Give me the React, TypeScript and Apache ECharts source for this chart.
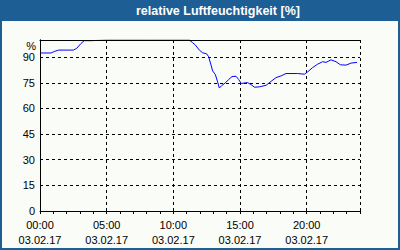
import React, { useEffect, useRef } from "react";
import * as echarts from "echarts";

const titleText = "relative Luftfeuchtigkeit [%]";
const unitLabel = "%";
const dateLabel = "03.02.17";
const hours = [
  0.0, 0.83, 1.07, 1.4, 2.5, 2.75, 3.08, 3.32, 3.83, 5.0, 8.0, 11.2, 11.45, 11.65, 11.95, 12.2,
  12.5, 12.65, 12.83, 12.95, 13.15, 13.32, 13.45, 13.65, 13.9, 14.15, 14.4, 14.7, 14.9, 15.1,
  15.35, 15.57, 15.83, 16.08, 16.45, 16.95, 17.33, 17.7, 18.08, 18.45, 19.32, 19.83, 20.08,
  20.45, 20.83, 21.2, 21.45, 21.83, 22.2, 22.53, 22.95, 23.33, 23.78,
];
const humidity = [
  92.4, 92.4, 93.3, 94.1, 94.1, 95.1, 98, 99.6, 99.6, 100, 100, 100, 98.4, 97.1, 94.1, 92.5,
  91.9, 90.2, 85.3, 81.9, 79.8, 75.5, 71.9, 73.5, 74.9, 76.9, 78.6, 78.8, 76.9, 74.5,
  74.9, 75.1, 73.9, 72.4, 72.6, 73.5, 75.8, 78, 79, 80.4, 80.4, 80, 81.4,
  83.9, 85.9, 87.3, 86.9, 88.4, 87.3, 85.5, 85.3, 86.5, 86.9,
];
const yMin = 0;
const yMax = 100;
const yStep = 15;
const xMin = 0;
const xMax = 24;
const xStep = 5;

const FONT = "'Liberation Sans', Arial, sans-serif";
const FRAME = "#1d5e94";

export default function App() {
  const ref = useRef<HTMLDivElement>(null);
  useEffect(() => {
    document.body.style.margin = "0";
    if (!ref.current) return;
    const chart = echarts.init(ref.current, undefined, { renderer: "svg" });
    const pad = (n: number) => (n < 10 ? "0" + n : "" + n);
    chart.setOption({
      animation: false,
      backgroundColor: "#fafcf8",
      textStyle: { fontFamily: FONT },
      grid: { left: 40, top: 40, width: 320, height: 171, show: false },
      graphic: [
        { type: "rect", shape: { x: 0, y: 0, width: 400, height: 21 }, style: { fill: FRAME }, z: 0 },
        {
          type: "rect",
          shape: { x: 1, y: 1, width: 398, height: 248 },
          style: { fill: "none", stroke: FRAME, lineWidth: 2 },
          z: 0,
        },
        {
          type: "text",
          x: 136,
          y: 10.5,
          style: {
            text: titleText,
            fill: "#ffffff",
            font: `bold 12.5px ${FONT}`,
            textAlign: "left",
            textVerticalAlign: "middle",
          },
          z: 1,
        },
        {
          type: "text",
          x: 36,
          y: 46,
          style: {
            text: unitLabel,
            fill: "#000000",
            font: `11px ${FONT}`,
            textAlign: "right",
            textVerticalAlign: "middle",
          },
        },
      ],
      xAxis: [
        {
          type: "value",
          min: xMin,
          max: xMax,
          interval: xStep,
          position: "bottom",
          axisLine: { show: true, lineStyle: { color: "#000", width: 1 } },
          axisTick: { show: true, length: 3, lineStyle: { color: "#000" } },
          axisLabel: {
            color: "#000",
            fontSize: 11,
            fontFamily: FONT,
            lineHeight: 15,
            margin: 6,
            showMaxLabel: false,
            formatter: (v: number) => (v >= xMax ? "" : `${pad(v)}:00\n${dateLabel}`),
          },
          splitLine: { show: true, lineStyle: { color: "#000", type: [3, 3], width: 1 } },
        },
        {
          type: "value",
          min: xMin,
          max: xMax,
          interval: 1,
          position: "bottom",
          axisLine: { show: false },
          axisTick: { show: true, length: 3, lineStyle: { color: "#000" } },
          axisLabel: { show: false },
          splitLine: { show: false },
        },
        {
          type: "value",
          min: xMin,
          max: xMax,
          position: "top",
          z: 10,
          axisLine: { show: true, lineStyle: { color: "#000", width: 1 } },
          axisTick: { show: false },
          axisLabel: { show: false },
          splitLine: { show: false },
        },
      ],
      yAxis: [
        {
          type: "value",
          min: yMin,
          max: yMax,
          interval: yStep,
          position: "left",
          axisLine: { show: true, lineStyle: { color: "#000", width: 1 } },
          axisTick: { show: false },
          axisLabel: {
            color: "#000",
            fontSize: 11,
            fontFamily: FONT,
            margin: 5,
            showMaxLabel: false,
            formatter: (v: number) => (v >= yMax ? "" : String(v)),
          },
          splitLine: { show: true, lineStyle: { color: "#000", type: [3, 3], width: 1 } },
        },
        {
          type: "value",
          min: yMin,
          max: yMax,
          position: "right",
          z: 10,
          axisLine: { show: true, lineStyle: { color: "#000", width: 1 } },
          axisTick: { show: false },
          axisLabel: { show: false },
          splitLine: { show: false },
        },
      ],
      series: [
        {
          type: "line",
          xAxisIndex: 0,
          yAxisIndex: 0,
          data: hours.map((h, i) => [h, humidity[i]]),
          showSymbol: false,
          symbol: "none",
          lineStyle: { color: "#0000ff", width: 1 },
          clip: true,
          z: 2,
        },
      ],
    });
    return () => chart.dispose();
  }, []);
  return <div ref={ref} style={{ position: "fixed", left: 0, top: 0, width: 400, height: 250 }} />;
}
